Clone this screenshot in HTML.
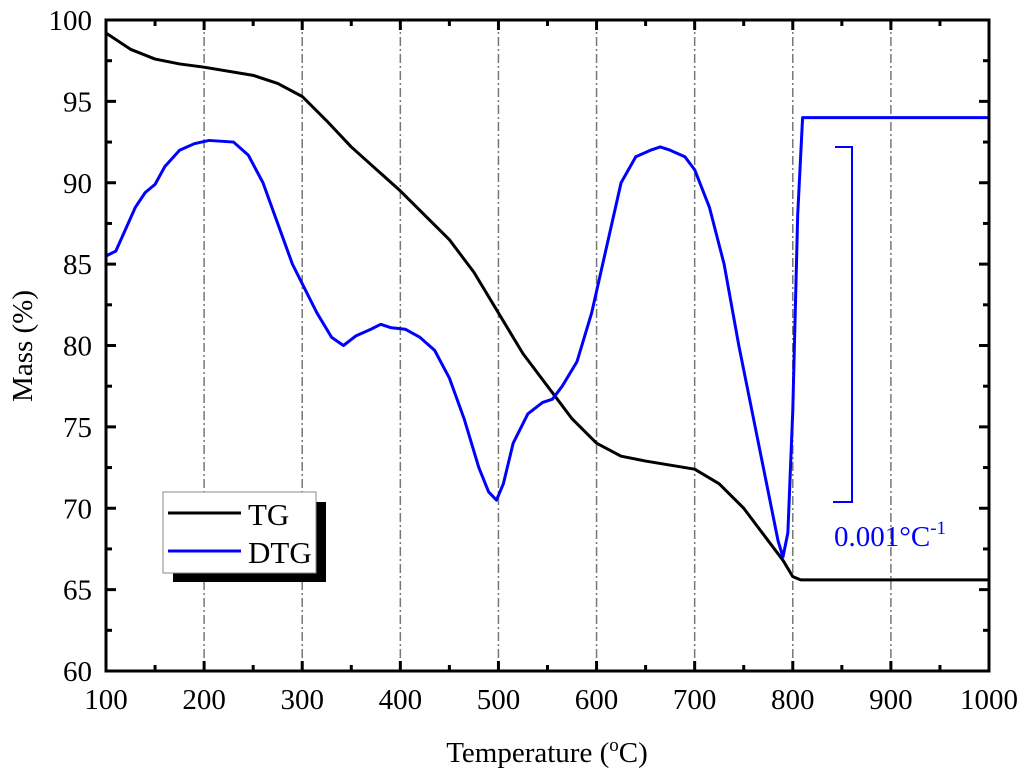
<!DOCTYPE html>
<html><head><meta charset="utf-8"><style>
html,body{margin:0;padding:0;background:#fff;}
svg text{font-family:"Liberation Serif",serif;}
</style></head><body>
<svg id="chart" width="1024" height="776" xmlns="http://www.w3.org/2000/svg">
<g id="grid"></g>
<g id="series"></g>
<g id="axes"></g>
<text transform="translate(32,346) rotate(-90)" text-anchor="middle" font-size="29">Mass (%)</text>
<text x="547" y="762" text-anchor="middle" font-size="29">Temperature (<tspan font-size="19" dy="-11">o</tspan><tspan dy="11">C)</tspan></text>
<g>
<rect x="173" y="502" width="153" height="80" fill="#000"/>
<rect x="163" y="492" width="153" height="81" fill="#fff" stroke="#888" stroke-width="1"/>
<line x1="168" y1="513" x2="241" y2="513" stroke="#000" stroke-width="3"/>
<text x="248" y="525" font-size="31">TG</text>
<line x1="168" y1="551" x2="241" y2="551" stroke="#0000ff" stroke-width="3"/>
<text x="248" y="563" font-size="31">DTG</text>
</g>
<g>
<polyline points="835,147 852,147 852,502 833,502" fill="none" stroke="#0000ff" stroke-width="2"/>
<text x="834" y="546" font-size="29" fill="#0000ff">0.001°C<tspan font-size="19" dy="-12">-1</tspan></text>
</g>
</svg>
<script>
const tgTemps=[100,125,150,175,200,250,275,300,325,350,400,450,475,500,525,550,575,600,625,650,700,725,750,775,790,800,808,1000];
const tgMass=[99.2,98.2,97.6,97.3,97.1,96.6,96.1,95.3,93.8,92.2,89.5,86.5,84.5,82,79.5,77.5,75.5,74,73.2,72.9,72.4,71.5,70,68,66.8,65.8,65.6,65.6];
const dtgTemps=[100,110,130,140,150,160,175,190,205,230,245,260,275,290,300,315,330,342,355,370,380,390,405,420,435,450,465,480,490,498,505,515,530,545,555,565,580,595,610,625,640,655,665,675,690,700,715,730,745,760,775,785,790,795,800,805,810,1000];
const dtgVals=[85.5,85.8,88.5,89.4,89.9,91,92,92.4,92.6,92.5,91.7,90,87.5,85,83.8,82,80.5,80,80.6,81,81.3,81.1,81,80.5,79.7,78,75.5,72.5,71,70.5,71.5,74,75.8,76.5,76.7,77.5,79,82,86,90,91.6,92,92.2,92,91.6,90.8,88.5,85,80,75.5,71,68,67,68.5,76,88,94,94];
const xTicks=[100,200,300,400,500,600,700,800,900,1000];
const yTicks=[60,65,70,75,80,85,90,95,100];
const X0=106,X1=989,Y0=671,Y1=20;
function sx(t){return X0+(t-100)/900*(X1-X0);}
function sy(v){return Y0-(v-60)/40*(Y0-Y1);}
const NS="http://www.w3.org/2000/svg";
function mk(tag,attrs,parent){const e=document.createElementNS(NS,tag);for(const k in attrs)e.setAttribute(k,attrs[k]);parent.appendChild(e);return e;}
const grid=document.getElementById('grid'),axes=document.getElementById('axes'),series=document.getElementById('series');
xTicks.slice(1,-1).forEach(t=>{
  const l=mk('line',{x1:sx(t),x2:sx(t),y1:Y1,y2:Y0,stroke:'#777','stroke-width':1.5,'stroke-dasharray':'9,3,2,3'},grid);
  
  
});
function line(pts,color,name){
  const p=mk('polyline',{points:pts,fill:'none',stroke:color,'stroke-width':3,'stroke-linejoin':'round'},series);
  
  
}
line(tgTemps.map((t,i)=>sx(t)+','+sy(tgMass[i])).join(' '),'#000','tg-line');
line(dtgTemps.map((t,i)=>sx(t)+','+sy(dtgVals[i])).join(' '),'#0000ff','dtg-line');
const fr=mk('rect',{x:X0,y:Y1,width:X1-X0,height:Y0-Y1,fill:'none',stroke:'#000','stroke-width':3},axes);


for(let t=100;t<=1000;t+=50){
  const len=(t%100===0)?10:6;
  mk('line',{x1:sx(t),x2:sx(t),y1:Y0,y2:Y0-len,stroke:'#000','stroke-width':3},axes);
  mk('line',{x1:sx(t),x2:sx(t),y1:Y1,y2:Y1+len,stroke:'#000','stroke-width':3},axes);
}
for(let v=60;v<=100;v+=2.5){
  const len=(v%5===0)?10:6;
  mk('line',{x1:X0,x2:X0+len,y1:sy(v),y2:sy(v),stroke:'#000','stroke-width':3},axes);
  mk('line',{x1:X1,x2:X1-len,y1:sy(v),y2:sy(v),stroke:'#000','stroke-width':3},axes);
}
xTicks.forEach(t=>{
  const e=mk('text',{x:sx(t),y:Y0+38,'text-anchor':'middle','font-size':29},axes);
  e.textContent=t;
  
  
});
yTicks.forEach(v=>{
  const e=mk('text',{x:X0-14,y:sy(v)+10,'text-anchor':'end','font-size':29},axes);
  e.textContent=v;
  
  
});
</script>
</body></html>
